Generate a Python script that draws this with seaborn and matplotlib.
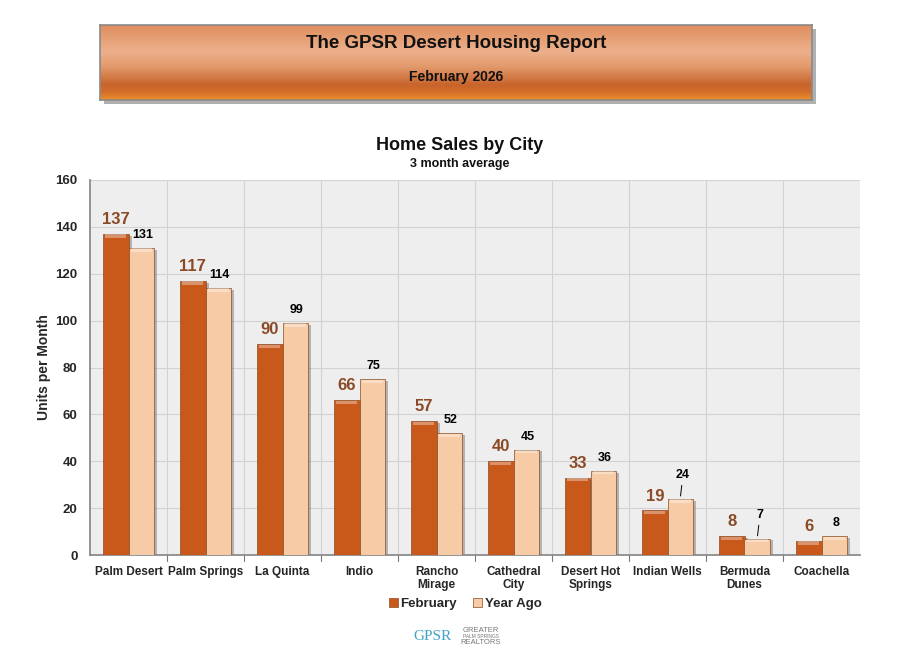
import numpy as np
import pandas as pd
import matplotlib
matplotlib.use("Agg")
import matplotlib.pyplot as plt
from matplotlib.colors import LinearSegmentedColormap
from matplotlib.patches import Rectangle
import seaborn as sns

cities = ["Palm Desert", "Palm Springs", "La Quinta", "Indio", "Rancho\nMirage",
          "Cathedral\nCity", "Desert Hot\nSprings", "Indian Wells", "Bermuda\nDunes", "Coachella"]
february = [137, 117, 90, 66, 57, 40, 33, 19, 8, 6]
year_ago = [131, 114, 99, 75, 52, 45, 36, 24, 7, 8]
series = ["February", "Year Ago"]
yticks = [0, 20, 40, 60, 80, 100, 120, 140, 160]

df = pd.DataFrame({
    "city": cities * 2,
    "value": february + year_ago,
    "period": [series[0]] * len(cities) + [series[1]] * len(cities),
})

sns.set_theme(style="white")
plt.rcParams["font.family"] = ["Liberation Sans", "DejaVu Sans"]
plt.rcParams["font.weight"] = "bold"

C_FEB = "#C9591B"
C_YA = "#F7CBA6"

fig = plt.figure(figsize=(8.99, 6.52), dpi=100)
fig.patch.set_facecolor("white")

# ---- banner shadow ----
sax = fig.add_axes([104 / 899, 1 - 104 / 652, 712 / 899, 75 / 652], zorder=1)
sax.set_facecolor("#b0b0b0")
sax.set_xticks([])
sax.set_yticks([])
for s in sax.spines.values():
    s.set_visible(False)

# ---- banner ----
bax = fig.add_axes([100 / 899, 1 - 100 / 652, 712 / 899, 75 / 652], zorder=2)
cmap = LinearSegmentedColormap.from_list(
    "ban", [(0, "#DF8E5E"), (0.35, "#EDB08C"), (0.55, "#E29A6C"),
            (0.8, "#C8642C"), (0.9, "#D46E2A"), (1.0, "#EE8F2A")])
grad = np.linspace(0, 1, 200).reshape(-1, 1)
bax.imshow(grad, aspect="auto", cmap=cmap, extent=[0, 1, 0, 1], origin="upper")
bax.set_xlim(0, 1)
bax.set_ylim(0, 1)
bax.set_xticks([])
bax.set_yticks([])
for s in bax.spines.values():
    s.set_edgecolor("#8a8a8a")
    s.set_linewidth(1.2)
bax.text(0.5, 0.75, "The GPSR Desert Housing Report", ha="center", va="center",
         fontsize=13.5, fontweight="bold", color="#111111")
bax.text(0.5, 0.30, "February 2026", ha="center", va="center",
         fontsize=10, fontweight="bold", color="#111111")

# ---- chart ----
ax = fig.add_axes([90 / 899, 1 - 555 / 652, 770 / 899, 375 / 652], zorder=3)
ax.set_facecolor("#EEEEEE")
sns.barplot(data=df, x="city", y="value", hue="period", palette=[C_FEB, C_YA],
            width=0.66, ax=ax, saturation=1, edgecolor="#8a4a22", linewidth=0.5,
            legend=True, zorder=3)

ax.set_ylim(0, 160)
ax.set_xlim(-0.5, len(cities) - 0.5)
ax.set_yticks(yticks)
ax.set_yticklabels([str(t) for t in yticks], fontsize=9.5, fontweight="bold")
ax.set_xticks(range(len(cities)))
ax.set_xticklabels(cities, fontsize=8.5, fontweight="bold", linespacing=1.1)
ax.tick_params(axis="x", length=0, pad=8)
ax.tick_params(axis="y", length=5, color="#777777", pad=4)
ax.set_xlabel("")
ax.set_ylabel("Units per Month", fontsize=10, fontweight="bold", labelpad=3)

# grid
for y in yticks[1:]:
    ax.axhline(y, color="#D2D2D2", lw=0.8, zorder=0)
for i in range(len(cities) - 1):
    ax.axvline(i + 0.5, color="#D2D2D2", lw=0.8, zorder=0)
    ax.plot([i + 0.5, i + 0.5], [0, -2.5], color="#777777", lw=0.8, clip_on=False)
for side in ["top", "right"]:
    ax.spines[side].set_visible(False)
ax.spines["left"].set_color("#888888")
ax.spines["bottom"].set_color("#888888")

containers = ax.containers

# bar shadows and highlights (pseudo 3D look)
for cont in containers:
    for bar in cont:
        x0, w, h = bar.get_x(), bar.get_width(), bar.get_height()
        ax.add_patch(Rectangle((x0 + w * 0.12, 0), w, h - 0.8, facecolor="#6b6b6b",
                               alpha=0.45, edgecolor="none", zorder=2))
        ax.add_patch(Rectangle((x0 + w * 0.08, h - 1.6), w * 0.84, 1.4,
                               facecolor="white", alpha=0.35, edgecolor="none", zorder=4))

# value labels
for bar, v in zip(containers[0], february):
    x = bar.get_x() + bar.get_width() / 2
    ax.annotate(str(v), (x, v), xytext=(0, 5), textcoords="offset points",
                ha="center", va="bottom", fontsize=12, fontweight="bold",
                color="#8A4A26", zorder=6)
leader = {7: True, 8: True}
for i, (bar, v) in enumerate(zip(containers[1], year_ago)):
    x = bar.get_x() + bar.get_width() / 2
    if i in leader:
        ax.annotate(str(v), (x, v), xytext=(2, 13), textcoords="offset points",
                    ha="center", va="bottom", fontsize=9, fontweight="bold",
                    color="black", zorder=6,
                    arrowprops=dict(arrowstyle="-", color="black", lw=0.7,
                                    shrinkA=1, shrinkB=2))
    else:
        ax.annotate(str(v), (x, v), xytext=(1, 5), textcoords="offset points",
                    ha="center", va="bottom", fontsize=9, fontweight="bold",
                    color="black", zorder=6)

# legend
handles, labels = ax.get_legend_handles_labels()
ax.legend_.remove()
fig.legend(handles, labels, loc="center", bbox_to_anchor=(465 / 899, 1 - 604 / 652),
           ncol=2, frameon=False, handlelength=0.7, handleheight=0.7,
           handletextpad=0.2, columnspacing=1.2, prop={"weight": "bold", "size": 9.5})

# titles
fig.text(460 / 899, 1 - 146 / 652, "Home Sales by City", ha="center", va="center",
         fontsize=13, fontweight="bold", color="#111111")
fig.text(460 / 899, 1 - 164 / 652, "3 month average", ha="center", va="center",
         fontsize=9, fontweight="bold", color="#111111")

# logo text
fig.text(433 / 899, 1 - 636 / 652, "GPSR", ha="center", va="center",
         fontsize=11, fontweight="normal", color="#3FA3C8", family="Liberation Serif")
fig.text(481 / 899, 1 - 630 / 652, "GREATER", ha="center", va="center",
         fontsize=5.5, fontweight="normal", color="#777777")
fig.text(481 / 899, 1 - 637 / 652, "PALM SPRINGS", ha="center", va="center",
         fontsize=3.5, fontweight="normal", color="#777777")
fig.text(481 / 899, 1 - 643 / 652, "REALTORS", ha="center", va="center",
         fontsize=5.5, fontweight="normal", color="#777777")

fig.savefig("out.png", dpi=100, facecolor="white")
